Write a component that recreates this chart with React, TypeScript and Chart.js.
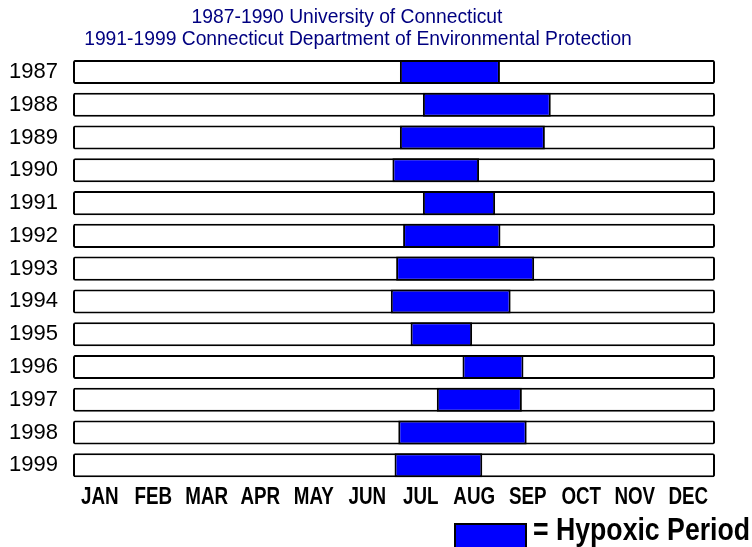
import React, { useEffect, useRef } from 'react';
import { Chart, registerables } from 'chart.js';

Chart.register(...registerables);

const YEARS = ['1987', '1988', '1989', '1990', '1991', '1992', '1993', '1994', '1995', '1996', '1997', '1998', '1999'];
const MONTHS = ['JAN', 'FEB', 'MAR', 'APR', 'MAY', 'JUN', 'JUL', 'AUG', 'SEP', 'OCT', 'NOV', 'DEC'];
// hypoxia start / end, in months from Jan 1 (0 = start of January, 12 = end of December)
const HYPOXIA_START = [6.11, 6.54, 6.11, 5.97, 6.54, 6.17, 6.04, 5.94, 6.31, 7.28, 6.8, 6.08, 6.01];
const HYPOXIA_END = [7.98, 8.93, 8.82, 7.59, 7.89, 7.99, 8.62, 8.18, 7.46, 8.42, 8.39, 8.48, 7.65];
const YEAR_START = 0;
const YEAR_END = 12;
const SUBTITLE_1 = '1987-1990 University of Connecticut';
const SUBTITLE_2 = '1991-1999 Connecticut Department of Environmental Protection';
const LEGEND_TEXT = '= Hypoxic Period';

const SANS = '"Liberation Sans", Arial, sans-serif';
const BLUE = '#0000ff';
const NAVY = '#000080';

function narrowText(ctx: CanvasRenderingContext2D, text: string, x: number, y: number, sx: number, align: 'left' | 'center') {
  ctx.save();
  ctx.translate(x, y);
  ctx.scale(sx, 1);
  ctx.textAlign = align;
  ctx.fillText(text, 0, 0);
  ctx.restore();
}

export default function App() {
  const ref = useRef<HTMLCanvasElement | null>(null);

  useEffect(() => {
    if (!ref.current) return;
    const annotations = {
      id: 'annotations',
      afterDraw(chart: any) {
        const ctx = chart.ctx as CanvasRenderingContext2D;
        ctx.save();
        ctx.fillStyle = NAVY;
        ctx.textAlign = 'center';
        ctx.textBaseline = 'alphabetic';
        ctx.font = `19.3px ${SANS}`;
        ctx.fillText(SUBTITLE_1, 347, 23);
        ctx.fillText(SUBTITLE_2, 358, 45);

        // month labels along the x scale
        const xs = chart.scales.x;
        ctx.fillStyle = '#000';
        ctx.font = `bold 23.5px ${SANS}`;
        MONTHS.forEach((m, i) => {
          narrowText(ctx, m, xs.getPixelForValue(i + 0.5), 504, 0.8, 'center');
        });

        // legend
        ctx.fillStyle = BLUE;
        ctx.fillRect(455, 524, 71, 30);
        ctx.strokeStyle = '#000';
        ctx.lineWidth = 2;
        ctx.strokeRect(455, 524, 71, 30);
        ctx.fillStyle = '#000';
        ctx.font = `bold 31px ${SANS}`;
        narrowText(ctx, LEGEND_TEXT, 533, 540, 0.86, 'left');
        ctx.restore();
      },
    };

    const common = {
      borderColor: '#000',
      borderWidth: 2,
      borderSkipped: false,
      grouped: false,
      categoryPercentage: 1,
      barPercentage: 0.735,
    };

    const chart = new Chart(ref.current, {
      type: 'bar',
      data: {
        labels: YEARS,
        datasets: [
          {
            label: 'Hypoxic Period',
            data: YEARS.map((_, i) => [HYPOXIA_START[i], HYPOXIA_END[i]]),
            backgroundColor: BLUE,
            ...common,
          } as any,
          {
            label: 'Year',
            data: YEARS.map(() => [YEAR_START, YEAR_END]),
            backgroundColor: '#ffffff',
            borderRadius: 2,
            ...common,
          } as any,
        ],
      },
      options: {
        indexAxis: 'y',
        animation: false,
        responsive: false,
        maintainAspectRatio: false,
        layout: { padding: { top: 55.6, right: 37, bottom: 0, left: 0 } },
        plugins: {
          legend: { display: false },
          title: { display: false },
          tooltip: { enabled: false },
        },
        scales: {
          x: {
            type: 'linear',
            min: YEAR_START,
            max: YEAR_END,
            grid: { display: false, drawTicks: false },
            border: { display: false },
            afterFit: (scale: any) => {
              scale.height = 547 - 481.7;
            },
            ticks: { display: false },
          },
          y: {
            type: 'category',
            offset: true,
            grid: { display: false, drawTicks: false },
            border: { display: false },
            afterFit: (scale: any) => {
              scale.width = 73;
            },
            ticks: {
              padding: 15,
              color: '#000',
              font: { family: SANS, size: 22 },
            },
          },
        },
      } as any,
      plugins: [annotations],
    });
    return () => chart.destroy();
  }, []);

  return (
    <div style={{ position: 'absolute', left: 0, top: 0, width: 752, height: 547, background: '#fff' }}>
      <canvas ref={ref} width={752} height={547} />
    </div>
  );
}
